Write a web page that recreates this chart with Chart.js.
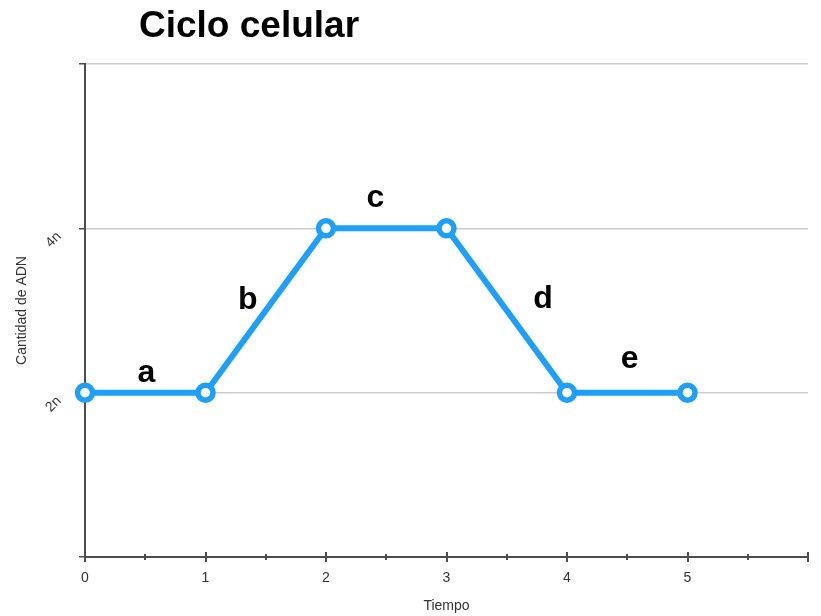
<!DOCTYPE html>
<html>
<head>
<meta charset="utf-8">
<script src="https://cdn.jsdelivr.net/npm/chart.js@4"></script>
<style>
  html, body { margin: 0; padding: 0; background: #fff; }
  #wrap { width: 821px; height: 616px; }
</style>
</head>
<body>
<div id="wrap"><canvas id="cellChart" width="821" height="616"></canvas></div>
<script>
// Ciclo celular - DNA amount over time

const tiempo = [0, 1, 2, 3, 4, 5];
const cantidadADN = [2, 2, 4, 4, 2, 2];
const yTickLabels = { 2: '2n', 4: '4n' };

// phase letters, placed in data units (x = time, y = DNA amount at baseline)
const segLetters = ['a', 'b', 'c', 'd', 'e'];
const segLetterX = [0.51, 1.35, 2.41, 3.80, 4.52];
const segLetterY = [2.13, 3.02, 4.26, 3.03, 2.30];

const BLUE = '#1ea0fa';
const AXIS = '#4d4d4d';
const FONT = "'Liberation Sans', Arial, sans-serif";

// no extra edge padding from the axes, the layout padding alone decides
const noPadding = () => ({ left: 0, top: 0, right: 0, bottom: 0 });

// Title drawn by hand so it can sit off the chart's left edge
const titlePlugin = {
    id: 'handTitle',
    afterDraw(chart) {
        const ctx = chart.ctx;
        ctx.save();
        ctx.fillStyle = '#000';
        ctx.font = 'bold 37px ' + FONT;
        ctx.textBaseline = 'alphabetic';
        ctx.textAlign = 'left';
        ctx.fillText('Ciclo celular', 139, 37);
        ctx.restore();
    }
};

// x axis tick marks: long at whole units, short at halves, crossing the axis
const xTicksPlugin = {
    id: 'xTickMarks',
    afterDraw(chart) {
        const x = chart.scales.x;
        const ctx = chart.ctx;
        const y0 = chart.chartArea.bottom;
        ctx.save();
        ctx.strokeStyle = AXIS;
        ctx.lineWidth = 2;
        x.ticks.forEach(t => {
            const px = Math.round(x.getPixelForValue(t.value));
            const half = Number.isInteger(t.value) ? 5 : 3;
            ctx.beginPath();
            ctx.moveTo(px, y0 - half);
            ctx.lineTo(px, y0 + half);
            ctx.stroke();
        });
        ctx.restore();
    }
};

// phase letters
const lettersPlugin = {
    id: 'phaseLetters',
    afterDatasetsDraw(chart) {
        const { ctx, scales } = chart;
        ctx.save();
        ctx.fillStyle = '#000';
        ctx.font = 'bold 32px ' + FONT;
        ctx.textAlign = 'center';
        ctx.textBaseline = 'alphabetic';
        segLetters.forEach((l, i) => {
            ctx.fillText(l, scales.x.getPixelForValue(segLetterX[i]), scales.y.getPixelForValue(segLetterY[i]));
        });
        ctx.restore();
    }
};

function initCellChart() {
    const ctx = document.getElementById('cellChart').getContext('2d');
    new Chart(ctx, {
        type: 'line',
        data: {
            datasets: [{
                data: tiempo.map((t, i) => ({ x: t, y: cantidadADN[i] })),
                borderColor: BLUE,
                borderWidth: 6,
                pointRadius: 7.5,
                pointBorderWidth: 5.5,
                pointBackgroundColor: '#ffffff',
                pointBorderColor: BLUE,
                tension: 0,
                clip: false
            }]
        },
        options: {
            responsive: false,
            animation: false,
            layout: { padding: { top: 64, right: 10, left: 0, bottom: 0 } },
            plugins: {
                legend: { display: false },
                tooltip: { enabled: false },
                title: { display: false }
            },
            scales: {
                x: {
                    type: 'linear',
                    min: 0,
                    max: 6,
                    grid: { display: false },
                    border: { display: true, color: AXIS, width: 2 },
                    ticks: {
                        stepSize: 0.5,
                        autoSkip: false,
                        maxRotation: 0,
                        padding: 5,
                        color: '#333',
                        font: { family: FONT, size: 14 },
                        callback: v => (Number.isInteger(v) && v < 6) ? String(v) : ''
                    },
                    title: {
                        display: true,
                        text: 'Tiempo',
                        color: '#333',
                        font: { family: FONT, size: 14 },
                        padding: { top: 0, bottom: 1 }
                    },
                    afterFit(scale) {
                        scale.height = 59;
                        scale.paddingLeft = 0;
                        scale.paddingRight = 0;
                        scale.getPadding = noPadding;
                    }
                },
                y: {
                    min: 0,
                    max: 6,
                    grid: {
                        color: '#cccccc',
                        lineWidth: 1.5,
                        tickColor: AXIS,
                        tickLength: 6
                    },
                    border: { display: true, color: AXIS, width: 2 },
                    ticks: {
                        stepSize: 2,
                        minRotation: 45,
                        maxRotation: 45,
                        padding: 20,
                        labelOffset: 6,
                        color: '#333',
                        font: { family: FONT, size: 14 },
                        callback: v => yTickLabels[v] || ''
                    },
                    title: {
                        display: true,
                        text: 'Cantidad de ADN',
                        color: '#333',
                        font: { family: FONT, size: 14 },
                        padding: { top: 14, bottom: 0 }
                    },
                    afterFit(scale) {
                        scale.width = 85;
                        scale.paddingTop = 0;
                        scale.paddingBottom = 0;
                        scale.getPadding = noPadding;
                    }
                }
            }
        },
        plugins: [titlePlugin, xTicksPlugin, lettersPlugin]
    });
}

document.addEventListener('DOMContentLoaded', initCellChart);
</script>
</body>
</html>
